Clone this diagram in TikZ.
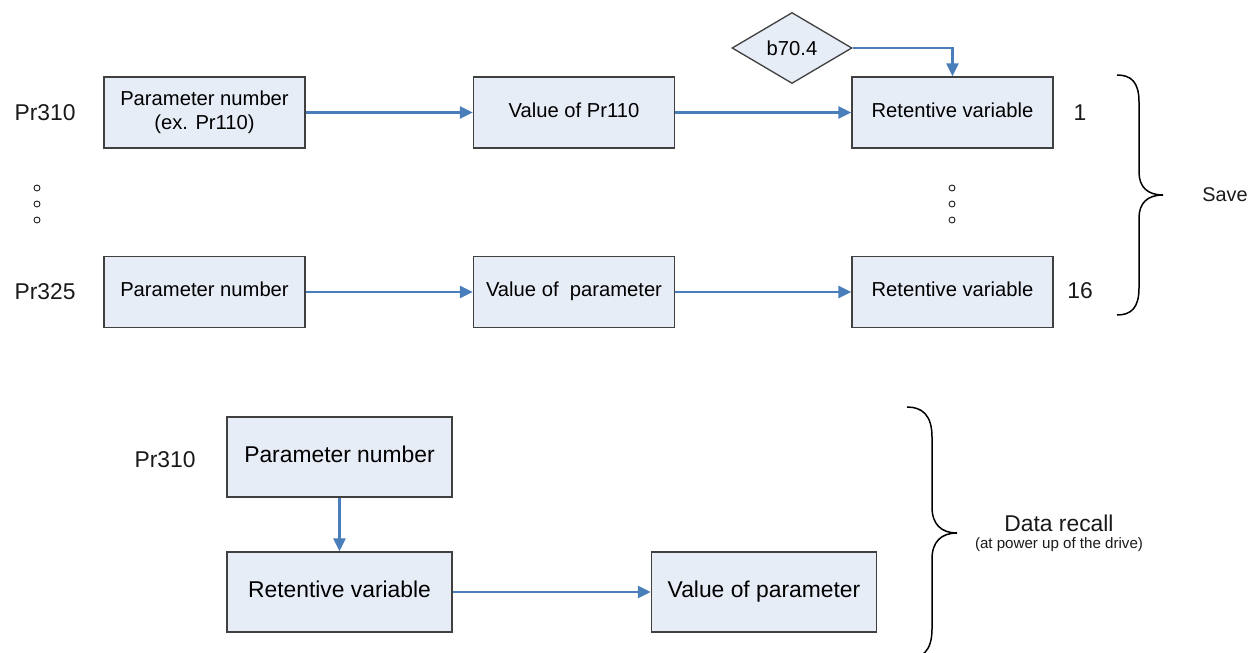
\documentclass[tikz,border=0pt]{standalone}
\usepackage{fontspec}
\setmainfont{Liberation Sans}
\usepackage{xcolor}
\definecolor{edge}{HTML}{404040}
\definecolor{pale}{HTML}{E7EDF7}
\definecolor{flow}{HTML}{4A7EBB}
\definecolor{ink}{HTML}{1A1A1A}
\usetikzlibrary{arrows.meta,positioning,shapes.geometric}
\newcommand\boxstrut{\rule[-0.24em]{0pt}{0.86em}}
\tikzset{
  every picture/.style={line width=0.75pt},
  box/.style={draw=edge, fill=pale, align=center, inner sep=2pt,
    minimum width=#1, minimum height=1.42cm, font=\fontsize{11.5}{13.5}\selectfont,
    execute at begin node=\boxstrut},
  box/.default=4.02cm,
  bigbox/.style={box=4.5cm, minimum height=1.6cm, font=\fontsize{13}{15}\selectfont},
  gate/.style={diamond, draw=edge, fill=pale, aspect=1.69, inner sep=1pt,
    minimum width=2.4cm, minimum height=1.42cm, font=\fontsize{11.5}{13.5}\selectfont},
  arrow/.style={-{Triangle[length=2.6mm, width=2.4mm]}, draw=flow, line width=1.4pt},
  tag/.style={text=ink, font=\fontsize{13}{15}\selectfont},
  dot/.style={circle, draw=ink, line width=0.5pt, inner sep=0pt, minimum size=0.12cm},
  curly/.style={draw=black, line width=0.85pt},
}
\begin{document}
\begin{tikzpicture}
  \useasboundingbox (0,0) rectangle (25.2,13.04);
  % save: top row
  \node[box] (num1) at (4.09,10.79) {Parameter number\\(ex. Pr110)};
  \node[box] (val1) at (11.48,10.79) {Value of Pr110};
  \node[box] (ret1) at (19.05,10.79) {Retentive variable};
  \node[gate] (flag) at (15.84,12.08) {b70.4};
  % save: last row
  \node[box] (num2) at (4.09,7.20) {Parameter number};
  \node[box] (val2) at (11.48,7.20) {Value of~~parameter};
  \node[box] (ret2) at (19.05,7.20) {Retentive variable};
  \node[tag] (pa) at (0.9,10.79) {Pr310};
  \node[tag] (pb) at (0.9,7.20) {Pr325};
  \node[tag] (ia) at (21.6,10.79) {1};
  \node[tag] (ib) at (21.6,7.22) {16};
  \foreach \y [count=\i] in {9.28,8.96,8.64} {
    \node[dot] (ldot\i) at (0.74,\y) {};
    \node[dot] (rdot\i) at (19.04,\y) {};
  }
  \draw[arrow] (num1) -- (val1);
  \draw[arrow] (val1) -- (ret1);
  \draw[arrow] (flag.east) -| (ret1.north);
  \draw[arrow] (num2) -- (val2);
  \draw[arrow] (val2) -- (ret2);
  \draw[curly] (22.34,11.54) .. controls (22.62,11.54) and (22.78,11.40) .. (22.78,11.0)
    -- (22.78,9.6) .. controls (22.78,9.3) and (22.95,9.14) .. (23.26,9.14)
    .. controls (22.95,9.14) and (22.78,8.98) .. (22.78,8.68)
    -- (22.78,7.28) .. controls (22.78,6.88) and (22.62,6.74) .. (22.34,6.74);
  \node[tag, font=\fontsize{11.3}{13}\selectfont] (save) at (24.5,9.14) {Save};
  % recall
  \node[bigbox] (num3) at (6.79,3.90) {Parameter number};
  \node[bigbox] (ret3) at (6.79,1.20) {Retentive variable};
  \node[bigbox] (val3) at (15.28,1.20) {Value of parameter};
  \node[tag] (pc) at (3.30,3.84) {Pr310};
  \draw[arrow] (num3) -- (ret3);
  \draw[arrow] (ret3) -- (val3);
  \draw[curly] (18.14,4.90) .. controls (18.44,4.90) and (18.64,4.74) .. (18.64,4.30)
    -- (18.64,2.90) .. controls (18.64,2.56) and (18.82,2.38) .. (19.14,2.38)
    .. controls (18.82,2.38) and (18.64,2.20) .. (18.64,1.86)
    -- (18.64,0.46) .. controls (18.64,0.02) and (18.44,-0.14) .. (18.14,-0.14);
  \node[tag] (recall) at (21.18,2.58) {Data recall};
  \node[tag, font=\fontsize{8.6}{10}\selectfont] (power) at (21.18,2.14) {(at power up of the drive)};
\end{tikzpicture}
\end{document}
